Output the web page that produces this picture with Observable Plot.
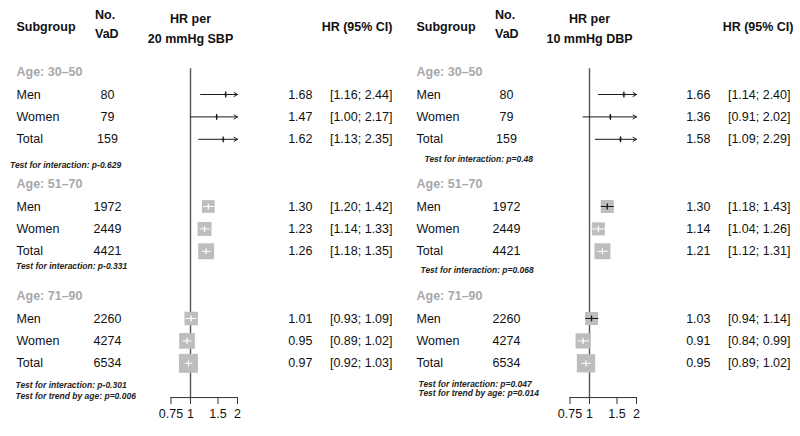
<!DOCTYPE html>
<html>
<head>
<meta charset="utf-8">
<script src="https://cdn.jsdelivr.net/npm/d3@7"></script>
<script src="https://cdn.jsdelivr.net/npm/@observablehq/plot@0.6"></script>
<style>
  html, body { margin: 0; padding: 0; background: #fff; }
  #chart { display: flex; width: 800px; height: 436px; overflow: hidden; }
  #chart svg { flex: none; }
</style>
</head>
<body>
<div id="chart"></div>
<script>
// ---------- data ----------
const ageGroups = ["Age: 30\u201350", "Age: 51\u201370", "Age: 71\u201390"];
const subgroups = ["Men", "Women", "Total"];
const nVaD = [80, 79, 159, 1972, 2449, 4421, 2260, 4274, 6534];

const sbpHR    = [1.68, 1.47, 1.62, 1.30, 1.23, 1.26, 1.01, 0.95, 0.97];
const sbpLower = [1.16, 1.00, 1.13, 1.20, 1.14, 1.18, 0.93, 0.89, 0.92];
const sbpUpper = [2.44, 2.17, 2.35, 1.42, 1.33, 1.35, 1.09, 1.02, 1.03];

const dbpHR    = [1.66, 1.36, 1.58, 1.30, 1.14, 1.21, 1.03, 0.91, 0.95];
const dbpLower = [1.14, 0.91, 1.09, 1.18, 1.04, 1.12, 0.94, 0.84, 0.89];
const dbpUpper = [2.40, 2.02, 2.29, 1.43, 1.26, 1.31, 1.14, 0.99, 1.02];

const sbpTests = ["Test for interaction: p-0.629", "Test for interaction: p-0.331",
                  "Test for interaction: p-0.301", "Test for trend by age: p=0.006"];
const dbpTests = ["Test for interaction: p=0.48", "Test for interaction: p=0.068",
                  "Test for interaction: p=0.047", "Test for trend by age: p=0.014"];

const sbpTitle = ["HR per", "20 mmHg SBP"];
const dbpTitle = ["HR per", "10 mmHg DBP"];
const xTicks = [0.75, 1, 1.5, 2];

// ---------- layout ----------
const FONT = "'Liberation Sans', Arial, Helvetica, sans-serif";
const xDomain = [0.75, 2];

function panel(cfg) {
  const rows = cfg.hr.map((hr, i) => ({
    row: 5 * Math.floor(i / 3) + (i % 3) + 1,
    name: subgroups[i % 3],
    n: nVaD[i],
    hr, lo: cfg.lower[i], hi: cfg.upper[i]
  }));
  const pxPerLn = (cfg.xRange[1] - cfg.xRange[0]) / Math.log(xDomain[1] / xDomain[0]);
  const widths = rows.map(d => Math.log(d.hi / d.lo));
  const minW = d3.min(widths);
  rows.forEach((d, i) => {
    d.side = cfg.maxSide * minW / widths[i];
    d.r = d.side / Math.sqrt(Math.PI);
    d.x1 = Math.max(d.lo, xDomain[0]);
    d.x2 = Math.min(d.hi, xDomain[1]);
    d.clipped = d.hi > xDomain[1];
    const ciPx = pxPerLn * Math.log(d.x2 / d.x1);
    d.inside = ciPx > d.side ? "#1a1a1a" : "#ffffff";
  });
  const groups = ageGroups.map((g, i) => ({ g, row: 5 * i }));
  const tests = cfg.tests.map((t, i) => ({ t, ...cfg.testPos[i] }));
  const axisRow = 14.53;

  const txt = (data, o) => Plot.text(data, { frameAnchor: "left", fontSize: 12.5, fill: "#111", ...o });

  return Plot.plot({
    width: 400, height: 436,
    marginTop: 0, marginRight: 0, marginBottom: 0, marginLeft: 0,
    style: { fontFamily: FONT, background: "#fff", overflow: "visible" },
    x: { type: "log", domain: xDomain, range: cfg.xRange, axis: null },
    y: { domain: [0, 15], range: [71.6, 407.6], axis: null },
    r: { type: "identity" },
    marks: [
      // headers
      txt(["Subgroup"], { y: () => -2.0, text: d => d, dx: 16, textAnchor: "start", fontWeight: "bold" }),
      txt(["No.", "VaD"], { y: (d, i) => [-2.54, -1.72][i], text: d => d, dx: cfg.noX, textAnchor: "start", fontWeight: "bold" }),
      Plot.text(cfg.title, { x: () => 1, y: (d, i) => [-2.36, -1.50][i], text: d => d, fontSize: 12.5, fontWeight: "bold", fill: "#111" }),
      txt(["HR (95% CI)"], { y: () => -2.0, text: d => d, dx: cfg.headEnd, textAnchor: "end", fontWeight: "bold" }),
      // group labels
      txt(groups, { y: "row", text: "g", dx: 16, textAnchor: "start", fontWeight: "bold", fill: "#a8a8a8" }),
      // subgroup rows
      txt(rows, { y: "row", text: "name", dx: 16, textAnchor: "start" }),
      txt(rows, { y: "row", text: d => String(d.n), dx: cfg.countX, textAnchor: "middle" }),
      txt(rows, { y: "row", text: d => d.hr.toFixed(2), dx: cfg.hrEnd, textAnchor: "end" }),
      txt(rows, { y: "row", text: d => `[${d.lo.toFixed(2)}; ${d.hi.toFixed(2)}]`, dx: cfg.ciEnd, textAnchor: "end" }),
      // tests
      ...tests.map(t => txt([t], { y: "row", text: "t", dx: t.dx, textAnchor: "start", fontSize: 8.5, fontWeight: "bold", fontStyle: "italic", fill: "#222" })),
      // reference line at HR = 1
      Plot.ruleX([1], { y1: -0.15, y2: axisRow, stroke: "#555", strokeWidth: 1.4 }),
      // squares
      Plot.dot(rows, { x: "hr", y: "row", r: "r", symbol: "square", fill: "#bdbdbd", stroke: "none" }),
      // CI lines (within range)
      Plot.link(rows.filter(d => !d.clipped), { x1: "x1", x2: "x2", y1: "row", y2: "row", stroke: "inside", strokeWidth: 1 }),
      // CI lines clipped with arrows
      Plot.arrow(rows.filter(d => d.clipped), { x1: "x1", x2: "x2", y1: "row", y2: "row", stroke: "#1a1a1a", strokeWidth: 1, headLength: 6, headAngle: 60 }),
      // estimate ticks
      Plot.link(rows, { x1: "hr", x2: "hr", y1: d => d.row - 0.13, y2: d => d.row + 0.13, stroke: "inside", strokeWidth: 1.3 }),
      // x axis
      Plot.ruleY([axisRow], { x1: xDomain[0], x2: xDomain[1], stroke: "#333", strokeWidth: 1 }),
      Plot.ruleX(xTicks, { x: d => d, y1: axisRow, y2: axisRow + 0.31, stroke: "#333", strokeWidth: 1 }),
      Plot.text(xTicks, { x: d => d, y: () => 15.27, text: d => String(d), fontSize: 12.5, fill: "#111" })
    ]
  });
}

const chart = document.getElementById("chart");
chart.append(panel({
  hr: sbpHR, lower: sbpLower, upper: sbpUpper, tests: sbpTests, title: sbpTitle,
  xRange: [170.5, 237], maxSide: 19,
  noX: 94.5, countX: 107, hrEnd: 312, ciEnd: 392, headEnd: 392,
  testPos: [{ row: 4.17, dx: 9.5 }, { row: 8.68, dx: 15.5 }, { row: 14.0, dx: 15 }, { row: 14.45, dx: 15 }]
}));
chart.append(panel({
  hr: dbpHR, lower: dbpLower, upper: dbpUpper, tests: dbpTests, title: dbpTitle,
  xRange: [169.5, 236], maxSide: 18.34,
  noX: 94.5, countX: 106, hrEnd: 310, ciEnd: 390, headEnd: 393,
  testPos: [{ row: 3.9, dx: 24 }, { row: 8.83, dx: 20 }, { row: 13.92, dx: 18 }, { row: 14.36, dx: 18 }]
}));
</script>
</body>
</html>
